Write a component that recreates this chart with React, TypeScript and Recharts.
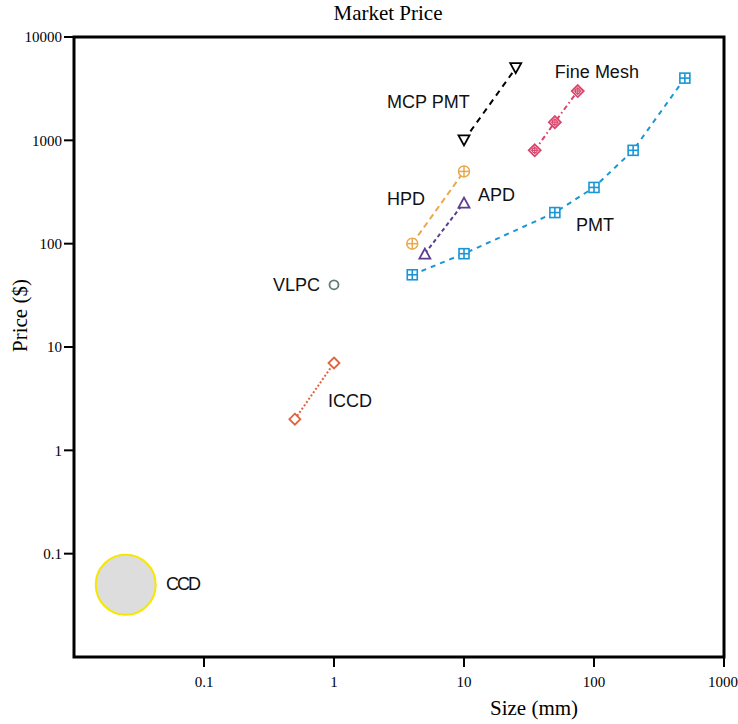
import { ScatterChart, Scatter, XAxis, YAxis, ReferenceArea, ReferenceDot } from 'recharts';

// sizes (mm) and prices ($)
const MCP_SIZE = [10, 25];
const MCP_PRICE = [1000, 5000];
const MESH_SIZE = [35, 50, 75];
const MESH_PRICE = [800, 1500, 3000];
const PMT_SIZE = [4, 10, 50, 100, 200, 500];
const PMT_PRICE = [50, 80, 200, 350, 800, 4000];
const HPD_SIZE = [4, 10];
const HPD_PRICE = [100, 500];
const APD_SIZE = [5, 10];
const APD_PRICE = [80, 250];
const VLPC_SIZE = [1];
const VLPC_PRICE = [40];
const ICCD_SIZE = [0.5, 1];
const ICCD_PRICE = [2, 7];
const CCD_SIZE = [0.025];
const CCD_PRICE = [0.05];

const X_TICKS = [0.1, 1, 10, 100, 1000];
const Y_TICKS = [0.1, 1, 10, 100, 1000, 10000];

const zip = (xs: number[], ys: number[]) => xs.map((x, i) => ({ x, y: ys[i] }));

const SERIF = '"Liberation Serif", "Times New Roman", serif';
const SANS = '"Liberation Sans", Arial, sans-serif';

type Kind = 'triDown' | 'triUp' | 'circle' | 'circlePlus' | 'squarePlus' | 'diamond' | 'diamondPlus' | 'blob';

function Marker({ cx, cy, kind, color }: { cx?: number; cy?: number; kind: Kind; color: string }) {
  if (cx == null || cy == null) return null;
  const sw = 1.8;
  switch (kind) {
    case 'triDown':
      return <polygon points={`${cx - 5.5},${cy - 5} ${cx + 5.5},${cy - 5} ${cx},${cy + 5}`} fill="#fff" stroke={color} strokeWidth={sw} />;
    case 'triUp':
      return <polygon points={`${cx - 5.5},${cy + 5} ${cx + 5.5},${cy + 5} ${cx},${cy - 5}`} fill="#fff" stroke={color} strokeWidth={sw} />;
    case 'circle':
      return <circle cx={cx} cy={cy} r={4.5} fill="#fff" stroke={color} strokeWidth={sw} />;
    case 'circlePlus':
      return (
        <g stroke={color} strokeWidth={1.5}>
          <circle cx={cx} cy={cy} r={5.5} fill="#fff" />
          <line x1={cx - 5.5} y1={cy} x2={cx + 5.5} y2={cy} />
          <line x1={cx} y1={cy - 5.5} x2={cx} y2={cy + 5.5} />
        </g>
      );
    case 'squarePlus':
      return (
        <g stroke={color} strokeWidth={1.6}>
          <rect x={cx - 5} y={cy - 5} width={10} height={10} fill="#fff" />
          <line x1={cx - 5} y1={cy} x2={cx + 5} y2={cy} />
          <line x1={cx} y1={cy - 5} x2={cx} y2={cy + 5} />
        </g>
      );
    case 'diamond':
      return <polygon points={`${cx},${cy - 5.5} ${cx + 5.5},${cy} ${cx},${cy + 5.5} ${cx - 5.5},${cy}`} fill="#fff" stroke={color} strokeWidth={sw} />;
    case 'diamondPlus':
      return (
        <g stroke={color} strokeWidth={1.8}>
          <polygon points={`${cx},${cy - 6} ${cx + 6},${cy} ${cx},${cy + 6} ${cx - 6},${cy}`} fill="#fff" />
          <circle cx={cx} cy={cy} r={2.5} fill="none" strokeWidth={1.2} />
          <line x1={cx - 4} y1={cy} x2={cx + 4} y2={cy} strokeWidth={1.2} />
          <line x1={cx} y1={cy - 4} x2={cx} y2={cy + 4} strokeWidth={1.2} />
        </g>
      );
    case 'blob':
      return <circle cx={cx} cy={cy} r={30} fill="#dddddd" stroke="#f5e800" strokeWidth={2} />;
  }
}

const SERIES: { name: string; data: { x: number; y: number }[]; color: string; kind: Kind; dash?: string }[] = [
  { name: 'MCP PMT', data: zip(MCP_SIZE, MCP_PRICE), color: '#000000', kind: 'triDown', dash: '6 5' },
  { name: 'Fine Mesh', data: zip(MESH_SIZE, MESH_PRICE), color: '#d9456b', kind: 'diamondPlus', dash: '5 3 1.5 3' },
  { name: 'PMT', data: zip(PMT_SIZE, PMT_PRICE), color: '#1a96d4', kind: 'squarePlus', dash: '5 5' },
  { name: 'HPD', data: zip(HPD_SIZE, HPD_PRICE), color: '#e9a94b', kind: 'circlePlus', dash: '6 4' },
  { name: 'APD', data: zip(APD_SIZE, APD_PRICE), color: '#5b3f8e', kind: 'triUp', dash: '4 3' },
  { name: 'VLPC', data: zip(VLPC_SIZE, VLPC_PRICE), color: '#5f7d74', kind: 'circle' },
  { name: 'ICCD', data: zip(ICCD_SIZE, ICCD_PRICE), color: '#e0633f', kind: 'diamond', dash: '2 2' },
  { name: 'CCD', data: zip(CCD_SIZE, CCD_PRICE), color: '#f5e800', kind: 'blob' },
];

// text annotations, placed in data coordinates (left edge, vertical middle)
const LABELS = [
  { text: 'MCP PMT', x: 2.56, y: 2330 },
  { text: 'Fine Mesh', x: 50, y: 4550 },
  { text: 'HPD', x: 2.56, y: 272 },
  { text: 'APD', x: 12.8, y: 298 },
  { text: 'PMT', x: 72.7, y: 153 },
  { text: 'VLPC', x: 0.34, y: 40 },
  { text: 'ICCD', x: 0.9, y: 3 },
  { text: 'CCD', x: 0.051, y: 0.051 },
];

export default function App() {
  const tick = { fill: '#000', fontSize: 15, fontFamily: SERIF };
  return (
    <div style={{ position: 'absolute', left: 0, top: 0, width: 738, height: 724, background: '#fff' }}>
      <div
        style={{
          position: 'absolute',
          top: 1,
          left: 0,
          width: 776,
          textAlign: 'center',
          fontFamily: SERIF,
          fontSize: 21,
          color: '#000',
        }}
      >
        Market Price
      </div>
      <ScatterChart width={738} height={724} margin={{ top: 37, right: 14, bottom: 0, left: 0 }}>
        <XAxis
          dataKey="x"
          type="number"
          scale="log"
          domain={[0.01, 1000]}
          allowDataOverflow
          ticks={X_TICKS}
          height={67}
          axisLine={false}
          tickSize={10}
          tickMargin={9}
          tickLine={{ stroke: '#000', strokeWidth: 2 }}
          tick={tick}
          label={{
            content: () => (
              <text x={490} y={715} fontFamily={SERIF} fontSize={21} fill="#000">
                Size (mm)
              </text>
            ),
          }}
        />
        <YAxis
          dataKey="y"
          type="number"
          scale="log"
          domain={[0.01, 10000]}
          allowDataOverflow
          ticks={Y_TICKS}
          width={74}
          axisLine={false}
          tickSize={10}
          tickMargin={2}
          tickLine={{ stroke: '#000', strokeWidth: 2 }}
          tick={tick}
          label={{
            content: () => (
              <text x={27} y={352} transform="rotate(-90 27 352)" fontFamily={SERIF} fontSize={21} fill="#000">
                Price ($)
              </text>
            ),
          }}
        />
        <ReferenceArea x1={0.01} x2={1000} y1={0.01} y2={10000} fill="none" stroke="#000" strokeWidth={3} />
        {SERIES.map((s) => (
          <Scatter
            key={s.name}
            name={s.name}
            data={s.data}
            isAnimationActive={false}
            line={s.dash ? { stroke: s.color, strokeWidth: 2, strokeDasharray: s.dash } : false}
            lineType="joint"
            shape={(p: any) => <Marker cx={p.cx} cy={p.cy} kind={s.kind} color={s.color} />}
          />
        ))}
        {LABELS.map((l) => (
          <ReferenceDot
            key={l.text}
            x={l.x}
            y={l.y}
            r={0}
            shape={(p: any) => (
              <text
                x={p.cx}
                y={p.cy}
                dominantBaseline="central"
                fontFamily={SANS}
                fontSize={18}
                fill="#111"
                letterSpacing={l.text === 'CCD' ? -2 : 0}
              >
                {l.text}
              </text>
            )}
          />
        ))}
      </ScatterChart>
    </div>
  );
}
